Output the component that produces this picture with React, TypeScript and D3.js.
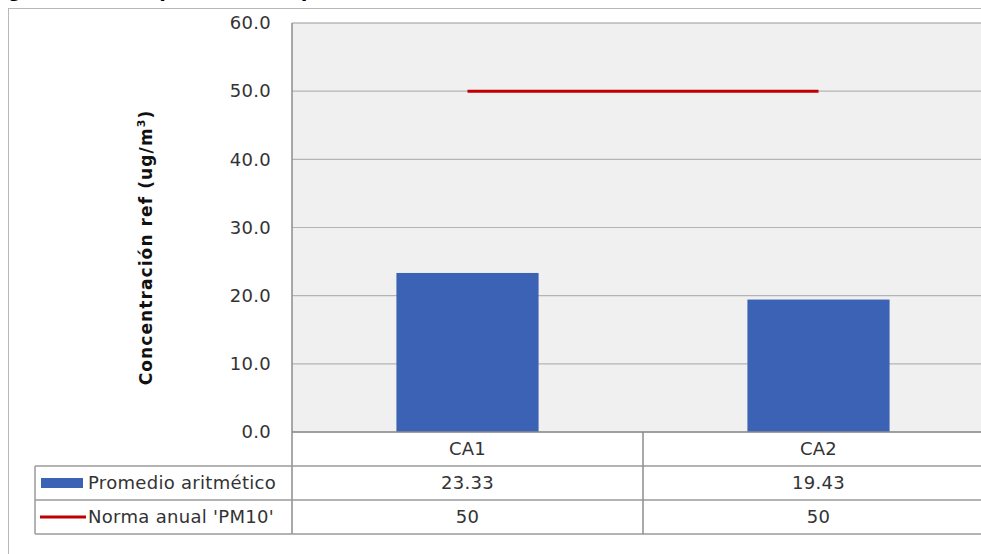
import React from "react";
import * as d3 from "d3";

const categories = ["CA1", "CA2"];
const promedio = [23.33, 19.43];
const norma = [50, 50];
const yTicks = [0, 10, 20, 30, 40, 50, 60];
const seriesNames = ["Promedio aritmético", "Norma anual 'PM10'"];
const promedioLabels = ["23.33", "19.43"];
const normaLabels = ["50", "50"];

const W = 981;
const H = 554;
const plot = { left: 292, right: 994, top: 23, bottom: 432 };
const rowH = 34;
const font = "'DejaVu Sans', Verdana, sans-serif";
const BLUE = "#3b62b4";
const RED = "#c00000";
const GRID = "#b4b4b4";
const TXT = "#333";

const App: React.FC = () => {
  const x = d3.scaleBand<string>().domain(categories).range([plot.left, plot.right]);
  const y = d3.scaleLinear().domain([0, 60]).range([plot.bottom, plot.top]);
  const barW = x.bandwidth() * 0.405;
  const cx = (c: string) => (x(c) as number) + x.bandwidth() / 2;

  const line = d3
    .line<number>()
    .x((_, i) => cx(categories[i]))
    .y((d) => y(d));

  const tableLeft = 35;
  const r1 = plot.bottom + rowH; // after category row
  const r2 = r1 + rowH;
  const r3 = r2 + rowH;
  const txt = { fontFamily: font, fontSize: 18, fill: TXT, letterSpacing: 0.3 };

  return (
    <svg width={W} height={H} style={{ position: "absolute", left: 0, top: 0, background: "#fff" }}>
      {/* cropped title, only descenders visible */}
      <text x={-14} y={-4} fontFamily="'Liberation Sans', Arial, sans-serif" fontWeight="bold" fontSize={24} fill="#000">
        Figura 3.2 Comparación de promedios aritméticos con la norma anual
      </text>
      {/* outer chart border */}
      <rect x={8.5} y={8.5} width={W} height={H} fill="none" stroke="#b8b8b8" />

      {/* plot area */}
      <rect x={plot.left} y={plot.top} width={plot.right - plot.left} height={plot.bottom - plot.top} fill="#f0f0f0" />
      {yTicks.map((t) => (
        <g key={t}>
          <line x1={plot.left} x2={plot.right} y1={y(t)} y2={y(t)} stroke={t === 60 ? "#999" : GRID} strokeWidth={1.2} />
          <text x={271} y={y(t)} dy="0.35em" textAnchor="end" {...txt}>
            {t.toFixed(1)}
          </text>
        </g>
      ))}
      <line x1={plot.left} x2={plot.left} y1={plot.top} y2={r3} stroke="#8c8c8c" strokeWidth={1.5} />

      {/* bars */}
      {categories.map((c, i) => (
        <rect key={c} x={cx(c) - barW / 2} y={y(promedio[i])} width={barW} height={y(0) - y(promedio[i])} fill={BLUE} />
      ))}

      {/* norm line */}
      <path d={line(norma) as string} fill="none" stroke={RED} strokeWidth={3} />

      {/* data table */}
      <line x1={plot.left} x2={W} y1={plot.bottom} y2={plot.bottom} stroke="#8c8c8c" strokeWidth={1.5} />
      {[r1, r2, r3].map((yy) => (
        <line key={yy} x1={tableLeft} x2={W} y1={yy} y2={yy} stroke="#9a9a9a" strokeWidth={1.5} />
      ))}
      <line x1={tableLeft} x2={tableLeft} y1={r1} y2={r3} stroke="#9a9a9a" strokeWidth={1.5} />
      {categories.slice(1).map((c) => (
        <line key={c} x1={x(c) as number} x2={x(c) as number} y1={plot.bottom} y2={r3} stroke="#8c8c8c" strokeWidth={1.5} />
      ))}
      {categories.map((c, i) => (
        <g key={c} textAnchor="middle">
          <text x={cx(c)} y={(plot.bottom + r1) / 2} dy="0.35em" {...txt}>{c}</text>
          <text x={cx(c)} y={(r1 + r2) / 2} dy="0.35em" {...txt}>{promedioLabels[i]}</text>
          <text x={cx(c)} y={(r2 + r3) / 2} dy="0.35em" {...txt}>{normaLabels[i]}</text>
        </g>
      ))}

      {/* legend keys */}
      <rect x={41} y={(r1 + r2) / 2 - 5} width={42} height={10} fill={BLUE} />
      <line x1={40} x2={86} y1={(r2 + r3) / 2} y2={(r2 + r3) / 2} stroke={RED} strokeWidth={3} />
      <text x={88} y={(r1 + r2) / 2} dy="0.35em" {...txt}>{seriesNames[0]}</text>
      <text x={88} y={(r2 + r3) / 2} dy="0.35em" {...txt}>{seriesNames[1]}</text>

      {/* y axis title */}
      <text
        transform={`translate(152,${(plot.top + plot.bottom) / 2 + 20}) rotate(-90)`}
        textAnchor="middle"
        fontFamily={font}
        fontWeight="bold"
        fontSize={17}
        letterSpacing={1.1}
        fill="#111"
      >
        Concentración ref (ug/m<tspan dy={-7} fontSize={11}>3</tspan><tspan dy={7}>)</tspan>
      </text>
    </svg>
  );
};

export default App;
